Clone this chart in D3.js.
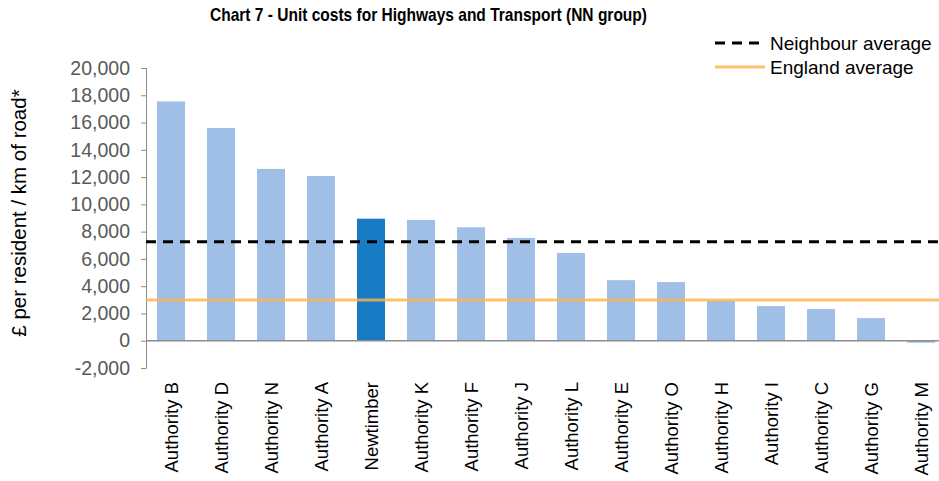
<!doctype html>
<html>
<head>
<meta charset="utf-8">
<script src="https://cdn.jsdelivr.net/npm/d3@7"></script>
<style>
  body { margin: 0; background: #fff; }
  text { font-family: "Liberation Sans", Arial, sans-serif; }
</style>
</head>
<body>
<div id="chart"></div>
<script>
// chart data
var authorities = ["Authority B", "Authority D", "Authority N", "Authority A", "Newtimber",
  "Authority K", "Authority F", "Authority J", "Authority L", "Authority E", "Authority O",
  "Authority H", "Authority I", "Authority C", "Authority G", "Authority M"];
var unitCosts = [17550, 15600, 12600, 12080, 8950, 8860, 8320, 7540, 6440, 4440, 4300,
  2930, 2540, 2320, 1660, -150];
var neighbourAverage = 7250;
var englandAverage = 2980;
var yTicks = [-2000, 0, 2000, 4000, 6000, 8000, 10000, 12000, 14000, 16000, 18000, 20000];

var width = 939, height = 481;
var plotLeft = 146, plotRight = 946, plotTop = 68, plotBottom = 368;

var svg = d3.select("#chart").append("svg")
  .attr("width", width).attr("height", height);

var x = d3.scaleBand().domain(authorities).range([plotLeft, plotRight]).paddingInner(0.44).paddingOuter(0.22);
var y = d3.scaleLinear().domain([-2000, 20000]).range([plotBottom, plotTop]);

// bars
svg.selectAll("rect.bar").data(authorities)
  .enter().append("rect")
  .attr("class", "bar")
  .attr("x", function(d) { return x(d); })
  .attr("width", x.bandwidth())
  .attr("y", function(d, i) { return y(Math.max(0, unitCosts[i])); })
  .attr("height", function(d, i) { return Math.abs(y(unitCosts[i]) - y(0)); })
  .attr("fill", function(d) { return d == "Newtimber" ? "#1a7bc5" : "#a0bfe6"; });

// y axis
var yAxis = d3.axisLeft(y).tickValues(yTicks).tickSize(5).tickPadding(11)
  .tickFormat(function(d) { return d3.format(",")(d).replace("−", "-"); });
var gy = svg.append("g").attr("transform", "translate(" + plotLeft + ",0)").call(yAxis);
gy.select(".domain").attr("stroke", "#8c8c8c").attr("d", "M0.5," + y(20000) + "V" + (plotBottom + 0.5));
gy.selectAll(".tick line").attr("stroke", "#8c8c8c");
gy.selectAll(".tick text").attr("fill", "#595959").style("font-size", "19.5px");

// zero line
svg.append("line")
  .attr("x1", plotLeft).attr("x2", width)
  .attr("y1", y(0)).attr("y2", y(0))
  .attr("stroke", "#8c8c8c").attr("stroke-width", 1.5);

// average lines
svg.append("line")
  .attr("x1", plotLeft).attr("x2", width)
  .attr("y1", y(englandAverage)).attr("y2", y(englandAverage))
  .attr("stroke", "#ffb347").attr("stroke-opacity", 0.8).attr("stroke-width", 3);
svg.append("line")
  .attr("x1", plotLeft).attr("x2", width)
  .attr("y1", y(neighbourAverage)).attr("y2", y(neighbourAverage))
  .attr("stroke", "#000").attr("stroke-width", 3).attr("stroke-dasharray", "10,7");

// x labels
svg.selectAll("text.xlab").data(authorities)
  .enter().append("text")
  .attr("class", "xlab")
  .attr("transform", function(d) { return "translate(" + (x(d) + x.bandwidth() / 2 + 7) + ",382) rotate(-90)"; })
  .attr("text-anchor", "end")
  .style("font-size", "18.5px")
  .attr("fill", "#000")
  .text(function(d) { return d; });

// y title
svg.append("text")
  .attr("transform", "translate(26,213) rotate(-90)")
  .attr("text-anchor", "middle")
  .style("font-size", "20.5px")
  .text("£ per resident / km of road*");

// title
svg.append("text")
  .attr("x", 428.5).attr("y", 21)
  .attr("text-anchor", "middle")
  .attr("textLength", 437)
  .attr("lengthAdjust", "spacingAndGlyphs")
  .style("font-weight", "bold")
  .style("font-size", "18.5px")
  .text("Chart 7 - Unit costs for Highways and Transport (NN group)");

// legend
var legend = [
  {label: "Neighbour average", stroke: "#000", dash: "10,7", op: 1},
  {label: "England average", stroke: "#ffb347", dash: null, op: 0.8}
];
var lg = svg.selectAll("g.legend").data(legend).enter().append("g")
  .attr("transform", function(d, i) { return "translate(715," + (43 + i * 24) + ")"; });
lg.append("line").attr("x1", 0).attr("x2", 50)
  .attr("stroke", function(d) { return d.stroke; })
  .attr("stroke-opacity", function(d) { return d.op; })
  .attr("stroke-width", 3)
  .attr("stroke-dasharray", function(d) { return d.dash; });
lg.append("text").attr("x", 55).attr("y", 7)
  .style("font-size", "19px")
  .text(function(d) { return d.label; });
</script>
</body>
</html>
